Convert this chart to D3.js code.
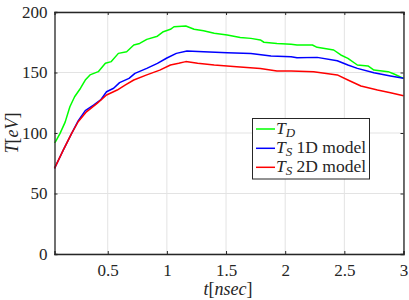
<!DOCTYPE html>
<html><head><meta charset="utf-8">
<script src="https://cdn.jsdelivr.net/npm/d3@7"></script>
<style>body{margin:0;background:#fff}svg{display:block} text{font-family:"Liberation Serif","Times New Roman","DejaVu Serif",serif}</style>
</head><body>
<svg id="c" width="409" height="300"></svg>
<script>
const xTicks = [0.5, 1, 1.5, 2, 2.5, 3];
const yTicks = [0, 50, 100, 150, 200];
const seriesNames = ["T_D", "T_S 1D model", "T_S 2D model"];
const seriesColors = ["#00ff00", "#0000ff", "#ff0000"];

const tD = [0.05,0.06,0.097,0.14,0.18,0.22,0.27,0.31,0.35,0.42,0.48,0.53,0.59,0.66,0.72,0.77,0.83,0.92,0.97,1.03,1.06,1.16,1.23,1.31,1.40,1.51,1.62,1.71,1.79,1.82,1.93,2.05,2.10,2.23,2.27,2.41,2.47,2.53,2.61,2.70,2.75,2.87,2.92,3.0];
const TD = [92,93,99.7,109,121.7,130,137,143.8,148,150.7,157.6,159,165.8,167.2,172.7,174,177.4,180,183.7,185.7,187.8,188.4,185.7,184.5,182.4,181,179,178.2,176.9,175,174,173.3,172.7,172.7,170.8,168.6,164.5,161.7,156.2,155.4,152,150.7,148.8,145.2];

const tS1 = [0.05,0.125,0.195,0.25,0.31,0.38,0.44,0.49,0.55,0.6,0.68,0.73,0.83,0.92,1.0,1.08,1.17,1.31,1.51,1.71,1.88,2.05,2.10,2.27,2.44,2.53,2.61,2.75,2.89,3.0];
const TS1 = [70.8,86,99.7,110,118.5,123,127.3,134.1,137,141.6,145.2,149.3,153.4,157.5,162,165.8,167.7,167.2,166.4,165.8,163.6,163,162.2,162.5,159.7,156.2,153.4,149.8,147.1,145.2];

const tS2 = [0.05,0.125,0.195,0.25,0.32,0.41,0.49,0.58,0.65,0.72,0.83,0.94,1.03,1.1,1.16,1.26,1.40,1.59,1.79,1.93,2.05,2.24,2.44,2.53,2.64,2.78,2.89,3.0];
const TS2 = [70.8,86,99.7,109.3,117.5,124.5,131.4,135.5,139.7,143.8,148,152,156.2,157.6,159,157.6,156.2,154.8,153.4,151.2,151.2,150.7,148,143.8,138.8,135.5,133.3,130.8];

const series = [
  tD.map((t,i)=>[t,TD[i]]),
  tS1.map((t,i)=>[t,TS1[i]]),
  tS2.map((t,i)=>[t,TS2[i]])
];

const svg = d3.select("#c");
const L = 54.5, R = 403.5, T = 12, B = 254;
const x = d3.scaleLinear().domain([0.05, 3]).range([L, R]);
const y = d3.scaleLinear().domain([0, 200]).range([B, T]);
const axisColor = "#262626";
const font = "Liberation Serif";

// grid
const g = svg.append("g");
g.selectAll(".gx").data(xTicks).enter().append("line")
  .attr("x1", d=>x(d)).attr("x2", d=>x(d)).attr("y1", T).attr("y2", B)
  .attr("stroke", "#e3e3e3").attr("stroke-width", 1);
g.selectAll(".gy").data(yTicks).enter().append("line")
  .attr("x1", L).attr("x2", R).attr("y1", d=>y(d)).attr("y2", d=>y(d))
  .attr("stroke", "#e3e3e3").attr("stroke-width", 1);

// lines
const line = d3.line().x(d=>x(d[0])).y(d=>y(d[1]));
series.forEach((s,i)=>{
  svg.append("path").datum(s).attr("d", line).attr("fill","none")
    .attr("stroke", seriesColors[i]).attr("stroke-width", 1.5).attr("stroke-linejoin","round");
});

// axes
const xAxis = d3.axisBottom(x).tickValues(xTicks).tickSize(-3).tickPadding(10).tickFormat(d3.format("~g"));
const yAxis = d3.axisLeft(y).tickValues(yTicks).tickSize(-3).tickPadding(7).tickFormat(d3.format("~g"));
const xa = svg.append("g").attr("transform", `translate(0,${B})`).call(xAxis);
const ya = svg.append("g").attr("transform", `translate(${L},0)`).call(yAxis);
const xt = svg.append("g").attr("transform", `translate(0,${T})`).call(d3.axisTop(x).tickValues(xTicks).tickSize(-3).tickFormat(""));
const yr = svg.append("g").attr("transform", `translate(${R},0)`).call(d3.axisRight(y).tickValues(yTicks).tickSize(-3).tickFormat(""));
[xa, ya, xt, yr].forEach(a=>{
  a.attr("font-family", null).attr("font-size", null);
  a.select(".domain").attr("stroke", axisColor).attr("stroke-width", 1.3);
  a.selectAll(".tick line").attr("stroke", axisColor).attr("stroke-width", 1);
  a.selectAll("text").attr("fill", axisColor).attr("font-family", font).attr("font-size", 17);
});

// axis labels
const xl = svg.append("text").attr("x", 228).attr("y", 295).attr("text-anchor","middle")
  .attr("font-family", font).attr("font-size", 18).attr("fill", axisColor);
xl.append("tspan").attr("font-style","italic").text("t");
xl.append("tspan").text("[");
xl.append("tspan").attr("font-style","italic").text("nsec");
xl.append("tspan").text("]");

const yl = svg.append("text").attr("transform","translate(18,133) rotate(-90)").attr("text-anchor","middle")
  .attr("font-family", font).attr("font-size", 18).attr("fill", axisColor);
yl.append("tspan").attr("font-style","italic").text("T");
yl.append("tspan").text("[");
yl.append("tspan").attr("font-style","italic").text("eV");
yl.append("tspan").text("]");

// legend
const lg = svg.append("g");
lg.append("rect").attr("x", 252.5).attr("y", 118.5).attr("width", 117).attr("height", 60.5)
  .attr("fill", "#fff").attr("stroke", axisColor).attr("stroke-width", 1);
const rows = [129, 148.3, 167.3];
seriesNames.forEach((name,i)=>{
  lg.append("line").attr("x1", 256).attr("x2", 275).attr("y1", rows[i]).attr("y2", rows[i])
    .attr("stroke", seriesColors[i]).attr("stroke-width", 1.5);
  const parts = name.split(" ");
  const [sym, sub] = parts[0].split("_");
  const rest = parts.slice(1).join(" ");
  const t = lg.append("text").attr("x", 276).attr("y", rows[i] + 5)
    .attr("font-family", font).attr("font-size", 17.5).attr("fill", axisColor);
  t.append("tspan").attr("font-style","italic").text(sym);
  t.append("tspan").attr("font-style","italic").attr("font-size", 13).attr("dy", 3).text(sub);
  if (rest) t.append("tspan").attr("dy", -3).text(" " + rest);
});
</script>
</body></html>
